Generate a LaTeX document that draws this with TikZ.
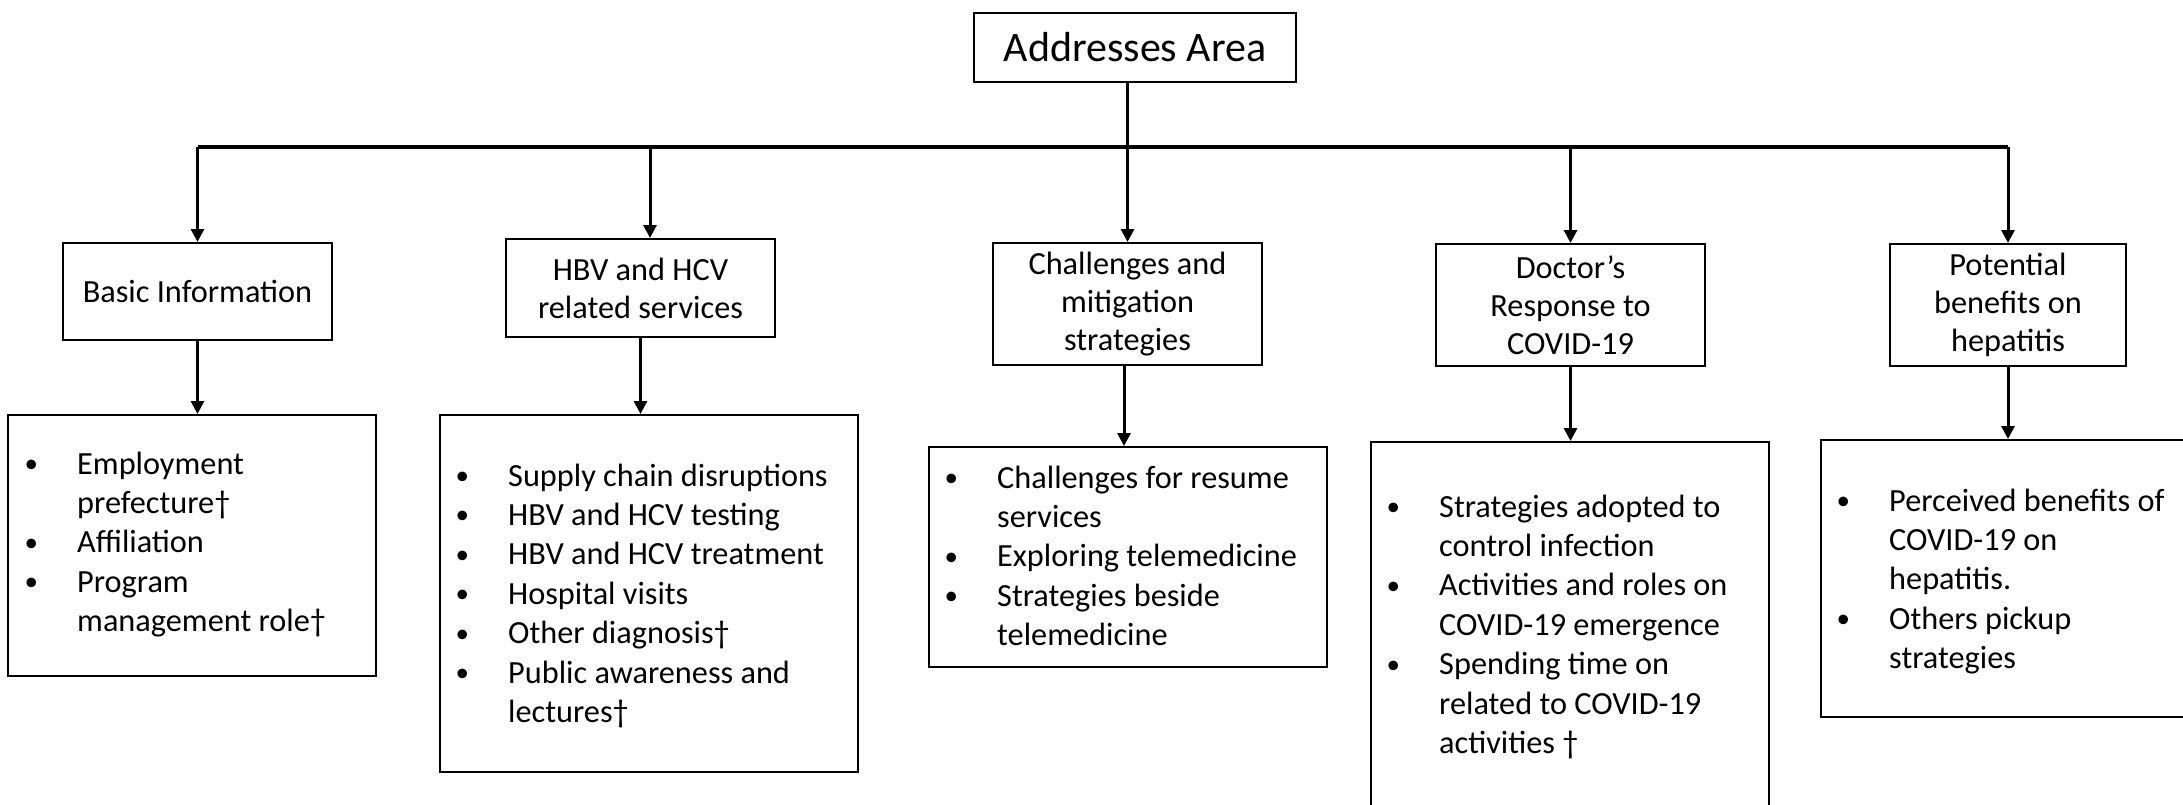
\documentclass[tikz,border=0pt]{standalone}
\usepackage{fontspec}
\setmainfont{Carlito}
\usetikzlibrary{arrows.meta}
\newcommand\bitem{\makebox[54pt][l]{\hspace*{1.5pt}\raisebox{1.5pt}{\fontsize{27}{27}\selectfont •}}}
\newcommand\bcont{\hspace*{54pt}}
\newcommand\blist[1]{\fontsize{32.3}{39.4}\selectfont\begin{tabular}[t]{@{}l@{}}#1\end{tabular}}
\tikzset{
  topbox/.style={draw, line width=2pt, inner sep=0pt, font=\fontsize{42}{50}\selectfont},
  midbox/.style={draw, line width=2pt, inner sep=0pt, align=center, font=\fontsize{32.3}{38}\selectfont},
  listbox/.style={draw, line width=2pt, inner sep=0pt},
  listtext/.style={anchor=base west, inner sep=0pt},
  conn/.style={line width=3pt},
  busline/.style={line width=3.5pt},
  arr/.style={line width=3pt, -{Triangle[length=13pt,width=13pt]}}
}
\begin{document}
\begin{tikzpicture}[x=1pt,y=-1pt]
\useasboundingbox (0,0) rectangle (2183,805);
\clip (0,0) rectangle (2183,805);
\fill[white] (0,0) rectangle (2183,805);

% top
\node[topbox, minimum width=322pt, minimum height=69pt] (top) at (1135,47.5) {Addresses Area};
\coordinate (bus) at (0,147);

% middle row
\node[midbox, minimum width=269pt, minimum height=97pt]  (b1) at (197.5,291.5) {Basic Information};
\node[midbox, minimum width=269pt, minimum height=98pt]  (b2) at (640.5,288) {HBV and HCV\\related services};
\node[midbox, minimum width=269pt, minimum height=122pt] (b3) at (1127.5,304) {Challenges and\\mitigation\\strategies};
\node[midbox, minimum width=269pt, minimum height=122pt] (b4) at (1570.5,305) {Doctor’s\\Response to\\COVID-19};
\node[midbox, minimum width=236pt, minimum height=122pt] (b5) at (2008,305) {Potential\\benefits on\\hepatitis};

% lower row boxes
\node[listbox, minimum width=368pt, minimum height=261pt] (l1) at (192,545.5) {};
\node[listbox, minimum width=418pt, minimum height=357pt] (l2) at (649,593.5) {};
\node[listbox, minimum width=398pt, minimum height=220pt] (l3) at (1128,557) {};
\node[listbox, minimum width=398pt, minimum height=478pt] (l4) at (1569.5,681) {};
\node[listbox, minimum width=420pt, minimum height=277pt] (l5) at (2031,578.5) {};

% lower texts
\node[listtext] (t1) at (23,474) {\blist{\bitem Employment\\ \bcont prefecture†\\ \bitem Affiliation\\ \bitem Program\\ \bcont management role†}};
\node[listtext] (t2) at (454,486) {\blist{\bitem Supply chain disruptions\\ \bitem HBV and HCV testing\\ \bitem HBV and HCV treatment\\ \bitem Hospital visits\\ \bitem Other diagnosis†\\ \bitem Public awareness and\\ \bcont lectures†}};
\node[listtext] (t3) at (943,488) {\blist{\bitem Challenges for resume\\ \bcont services\\ \bitem Exploring telemedicine\\ \bitem Strategies beside\\ \bcont telemedicine}};
\node[listtext] (t4) at (1385,517) {\blist{\bitem Strategies adopted to\\ \bcont control infection\\ \bitem Activities and roles on\\ \bcont COVID-19 emergence\\ \bitem Spending time on\\ \bcont related to COVID-19\\ \bcont activities †}};
\node[listtext] (t5) at (1835,511) {\blist{\bitem Perceived benefits of\\ \bcont COVID-19 on\\ \bcont hepatitis.\\ \bitem Others pickup\\ \bcont strategies}};

% connectors
\draw[conn] ([xshift=-8pt]top.south) -- ([xshift=-8pt]top.south |- bus);
\draw[busline] (b1.north |- bus) -- (b5.north |- bus);
\draw[arr] (b1.north |- bus) -- (b1.north);
\draw[arr] ([xshift=9.5pt]b2.north |- bus) -- ([xshift=9.5pt]b2.north);
\draw[arr] (b3.north |- bus) -- (b3.north);
\draw[arr] (b4.north |- bus) -- (b4.north);
\draw[arr] (b5.north |- bus) -- (b5.north);

\draw[arr] (b1.south) -- (b1.south |- l1.north);
\draw[arr] (b2.south) -- (b2.south |- l2.north);
\draw[arr] ([xshift=-3.5pt]b3.south) -- ([xshift=-3.5pt]b3.south |- l3.north);
\draw[arr] (b4.south) -- (b4.south |- l4.north);
\draw[arr] (b5.south) -- (b5.south |- l5.north);
\end{tikzpicture}
\end{document}
